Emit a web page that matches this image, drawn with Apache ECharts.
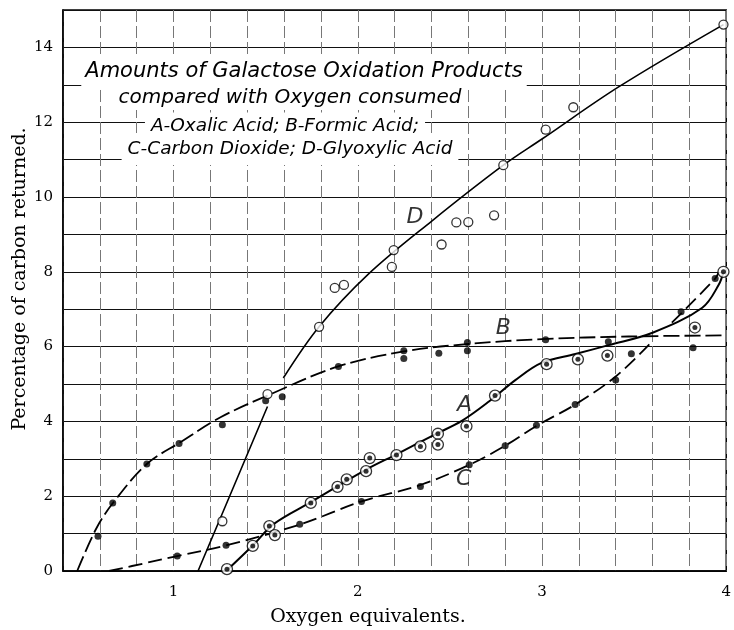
<!DOCTYPE html>
<html>
<head>
<meta charset="utf-8">
<script src="https://cdn.jsdelivr.net/npm/echarts@6/dist/echarts.min.js"></script>
<style>
  html, body { margin: 0; padding: 0; background: #fff; }
  #chart { width: 734px; height: 630px; }
</style>
</head>
<body>
<div id="chart"></div>
<script>
// measured points (oxygen equivalents, % carbon)
const pointsA = [[1.29,0.05],[1.43,0.67],[1.52,1.2],[1.55,0.96],[1.745,1.82],[1.89,2.25],[1.94,2.45],[2.045,2.67],[2.065,3.02],[2.21,3.10],[2.34,3.33],[2.435,3.67],[2.435,3.38],[2.59,3.87],[2.745,4.69],[3.025,5.53],[3.195,5.66],[3.355,5.76],[3.83,6.51],[3.985,8.0]]
const pointsB = [[0.59,0.93],[0.67,1.82],[0.855,2.86],[1.03,3.41],[1.265,3.91],[1.50,4.55],[1.59,4.66],[1.895,5.47],[2.25,5.89],[2.25,5.68],[2.44,5.82],[2.595,6.11],[2.595,5.89],[3.02,6.18],[3.36,6.13],[3.82,5.97]]
const pointsC = [[1.02,0.40],[1.285,0.69],[1.685,1.25],[2.02,1.86],[2.34,2.26],[2.605,2.84],[2.80,3.35],[2.97,3.90],[3.18,4.45],[3.40,5.11],[3.485,5.81],[3.755,6.93],[3.94,7.82]]
const pointsD = [[1.265,1.33],[1.51,4.73],[1.79,6.53],[1.875,7.57],[1.925,7.65],[2.185,8.13],[2.195,8.58],[2.455,8.73],[2.535,9.32],[2.60,9.33],[2.74,9.51],[2.79,10.85],[3.02,11.80],[3.17,12.40],[3.985,14.61]]

// hand drawn curves through the points
const curveA = [[1.29,0.02],[1.43,0.68],[1.545,1.26],[1.745,1.84],[2.045,2.71],[2.21,3.12],[2.423,3.66],[2.567,4.02],[2.712,4.53],[2.857,5.11],[3.0,5.57],[3.181,5.80],[3.362,6.04],[3.6,6.37],[3.87,7.04],[3.96,7.66],[3.985,8.0]]
const curveB = [[0.477,0],[0.58,1.13],[0.673,1.83],[0.855,2.86],[1.036,3.44],[1.255,4.11],[1.509,4.69],[1.894,5.47],[2.25,5.87],[2.6,6.07],[3.0,6.2],[3.47,6.27],[4.0,6.3]]
const curveC = [[0.65,0],[0.855,0.22],[1.02,0.40],[1.29,0.69],[1.69,1.25],[2.02,1.86],[2.34,2.3],[2.61,2.85],[2.8,3.35],[2.97,3.88],[3.18,4.45],[3.4,5.2],[3.59,6.1],[3.64,null],[3.705,6.64],[3.94,7.82],[3.96,8.0]]
const curveD = [[1.133,0],[1.51,4.4],[1.55,null],[1.596,5.16],[1.79,6.53],[2.056,7.93],[2.4,9.35],[2.79,10.85],[3.0,11.55],[3.418,12.95],[3.985,14.61]]

const curveLabels = [['A',2.58,4.42],['B',2.79,6.5],['C',2.575,2.45],['D',2.31,9.45]]

const titleLines = [
  'Amounts of Galactose Oxidation Products',
  'compared with Oxygen consumed',
  'A-Oxalic Acid; B-Formic Acid;',
  'C-Carbon Dioxide; D-Glyoxylic Acid'
]

const serif = '"DejaVu Serif", serif'
const letter = '"DejaVu Sans", sans-serif'

const isWhole = v => Math.abs(v - Math.round(v)) < 1e-6

const chart = echarts.init(document.getElementById('chart'))

const lineSeries = (data, width, type) => ({
  type: 'line',
  data,
  smooth: 0.35,
  showSymbol: false,
  silent: true,
  z: 2,
  lineStyle: { color: '#000', width, type }
})

const titleText = (text, x, y, size, padding) => ({
  type: 'text', x, y, z: 10,
  style: {
    text, font: 'italic ' + size + 'px ' + letter, fill: '#000',
    align: 'center', verticalAlign: 'middle', backgroundColor: '#fff', padding
  }
})

const option = {
  animation: false,
  backgroundColor: '#fff',
  grid: { left: 63, right: 6, top: 10, bottom: 59, show: true, borderColor: '#000', borderWidth: 1.5 },
  xAxis: {
    type: 'value',
    min: 0.4,
    max: 4,
    interval: 0.2,
    axisLine: { lineStyle: { color: '#000', width: 1.5 } },
    axisTick: { show: false },
    axisLabel: {
      color: '#000', fontFamily: serif, fontSize: 15, margin: 14,
      formatter: v => isWhole(v) ? String(Math.round(v)) : ''
    },
    splitLine: { lineStyle: { color: '#777', width: 1, type: [12, 4] } }
  },
  yAxis: {
    type: 'value',
    min: 0,
    max: 15,
    interval: 1,
    axisLine: { lineStyle: { color: '#000', width: 1.5 } },
    axisTick: { show: false },
    axisLabel: {
      color: '#000', fontFamily: serif, fontSize: 15, margin: 10,
      formatter: v => (v % 2 === 0 && v < 15) ? String(v) : ''
    },
    splitLine: { lineStyle: { color: '#111', width: 1.2 } }
  },
  graphic: [
    { type: 'text', x: 368, y: 617, style: { text: 'Oxygen equivalents.', font: '19px ' + serif, fill: '#000', align: 'center', verticalAlign: 'middle' } },
    { type: 'text', x: 20, y: 279, rotation: Math.PI / 2, style: { text: 'Percentage of carbon returned.', font: '19px ' + serif, fill: '#000', align: 'center', verticalAlign: 'middle' } },
    titleText(titleLines[0], 304, 72, 21, [5, 4, 5, 4]),
    titleText(titleLines[1], 290, 98, 20, [2, 6, 2, 6]),
    titleText(titleLines[2], 285, 126, 18.5, [4, 6, 4, 6]),
    titleText(titleLines[3], 290, 149, 18.5, [2, 6, 11, 6])
  ],
  series: [
    lineSeries(curveA, 2, 'solid'),
    lineSeries(curveB, 1.8, [16, 5]),
    lineSeries(curveC, 1.8, [14, 6]),
    lineSeries(curveD, 1.6, 'solid'),
    {
      type: 'scatter', data: pointsB, symbol: 'circle', symbolSize: 7, z: 3,
      itemStyle: { color: '#000' }
    },
    {
      type: 'scatter', data: pointsC, symbol: 'circle', symbolSize: 7, z: 3,
      itemStyle: { color: '#000' }
    },
    {
      type: 'scatter', data: pointsD, symbol: 'circle', symbolSize: 9, z: 3,
      itemStyle: { color: '#fff', borderColor: '#000', borderWidth: 1.3 }
    },
    {
      type: 'scatter', data: pointsA, symbol: 'circle', symbolSize: 11, z: 3,
      itemStyle: { color: '#fff', borderColor: '#000', borderWidth: 1.3 }
    },
    {
      type: 'scatter', data: pointsA, symbol: 'circle', symbolSize: 5, z: 4,
      itemStyle: { color: '#000' }
    },
    {
      type: 'scatter', z: 5, symbolSize: 1, silent: true,
      itemStyle: { color: 'rgba(0,0,0,0)' },
      data: curveLabels.map(d => ({ name: d[0], value: [d[1], d[2]] })),
      label: { show: true, position: 'inside', formatter: p => p.name, color: '#000', fontFamily: letter, fontStyle: 'italic', fontSize: 22 }
    }
  ]
}

chart.setOption(option)
</script>
</body>
</html>
